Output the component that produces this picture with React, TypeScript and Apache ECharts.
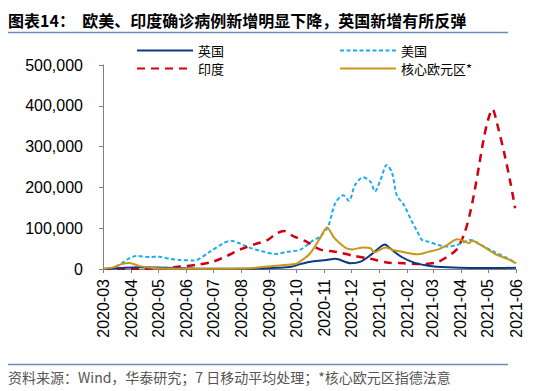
import React, { useEffect, useRef } from "react";
import * as echarts from "echarts";

const ukDates = ["2020-03-01","2020-03-20","2020-04-10","2020-05-10","2020-06-10","2020-07-15","2020-08-20","2020-09-10","2020-09-25","2020-10-05","2020-10-20","2020-11-03","2020-11-13","2020-11-30","2020-12-11","2020-12-22","2020-12-31","2021-01-07","2021-01-12","2021-01-25","2021-02-09","2021-02-24","2021-03-17","2021-04-12","2021-05-10","2021-06-01"];
const ukValues = [0,2500,4500,3000,1200,600,1000,3000,5500,12000,19000,22000,25000,14000,18000,34000,51000,60000,52000,30000,15000,8000,4000,2200,2300,3000];

const usDates = ["2020-03-01","2020-03-10","2020-03-19","2020-03-30","2020-04-07","2020-04-22","2020-05-02","2020-05-14","2020-05-25","2020-06-10","2020-06-27","2020-07-12","2020-07-21","2020-07-30","2020-08-07","2020-08-21","2020-09-09","2020-09-20","2020-10-05","2020-10-20","2020-10-27","2020-11-05","2020-11-13","2020-11-22","2020-11-28","2020-12-05","2020-12-14","2020-12-22","2020-12-27","2021-01-02","2021-01-09","2021-01-15","2021-01-20","2021-01-28","2021-02-05","2021-02-12","2021-02-17","2021-02-24","2021-03-07","2021-03-17","2021-03-28","2021-04-12","2021-04-23","2021-05-08","2021-05-23","2021-06-01"];
const usValues = [0,1000,10000,26000,32000,29500,30000,25000,22000,21000,42000,63000,69000,63000,55000,45000,37000,42000,47000,71000,79000,104000,161000,181000,167000,206000,225000,214000,190000,218000,255000,235000,181000,157000,120000,91000,71000,67000,59000,55000,59000,71000,59000,42000,26000,14000];

const inDates = ["2020-03-01","2020-04-15","2020-05-11","2020-05-25","2020-06-12","2020-07-01","2020-07-16","2020-07-31","2020-08-15","2020-08-30","2020-09-09","2020-09-17","2020-09-28","2020-10-13","2020-10-27","2020-11-14","2020-12-02","2020-12-22","2021-01-09","2021-01-28","2021-02-16","2021-03-05","2021-03-16","2021-03-27","2021-04-05","2021-04-12","2021-04-19","2021-04-26","2021-05-01","2021-05-06","2021-05-11","2021-05-19","2021-05-26","2021-05-31"];
const inValues = [0,800,2500,6000,10000,18000,32000,48000,60000,71000,87000,93000,80000,66000,48000,42000,33000,25000,16000,14000,12000,16000,29000,47000,88000,145000,226000,316000,365000,392000,357000,284000,210000,149000];

const ezDates = ["2020-03-01","2020-03-12","2020-03-22","2020-03-30","2020-04-11","2020-04-26","2020-05-20","2020-07-15","2020-08-11","2020-08-30","2020-09-17","2020-09-30","2020-10-05","2020-10-16","2020-10-27","2020-11-04","2020-11-11","2020-11-18","2020-11-25","2020-12-02","2020-12-14","2020-12-22","2020-12-26","2021-01-08","2021-01-15","2021-01-31","2021-02-12","2021-02-24","2021-03-07","2021-03-17","2021-03-28","2021-04-04","2021-04-10","2021-04-13","2021-04-23","2021-05-08","2021-05-23","2021-06-01"];
const ezValues = [0,4000,12000,14500,7000,2500,1000,800,2000,6000,10000,12000,18000,38000,75000,102000,79000,63000,51000,48000,53000,51000,41000,53000,47000,40000,36000,42000,48000,59000,73000,69000,63000,69000,59000,38000,24000,14000];

const seriesNames = ["英国", "美国", "印度", "核心欧元区*"];
const yTicks = [0, 100000, 200000, 300000, 400000, 500000];
const titleText = "图表14：  欧美、印度确诊病例新增明显下降，英国新增有所反弹";
const footerText = "资料来源：Wind，华泰研究；7 日移动平均处理；*核心欧元区指德法意";

const pairs = (d: string[], v: number[]) => d.map((x, i) => [x, v[i]]);

export default function App() {
  const ref = useRef<HTMLDivElement>(null);
  useEffect(() => {
    if (!ref.current) return;
    const chart = echarts.init(ref.current, undefined, { renderer: "svg" });
    const numFont = "Liberation Sans, Arial, sans-serif";
    const cjkFont = "'Noto Sans CJK SC', sans-serif";
    const day = 86400000;
    const fmt = (v: number) => {
      const d = new Date(v);
      return d.getFullYear() + "-" + String(d.getMonth() + 1).padStart(2, "0");
    };
    const legendBase = {
      orient: "vertical",
      top: 39,
      itemGap: 5,
      itemWidth: 56,
      itemHeight: 13,
      itemStyle: { opacity: 0 },
      textStyle: { fontFamily: cjkFont, fontSize: 13, lineHeight: 13, color: "#000" },
    };
    chart.setOption({
      animation: false,
      backgroundColor: "#ffffff",
      grid: { left: 103, right: 34, top: 65, bottom: 122, containLabel: false },
      legend: [
        { ...legendBase, data: [seriesNames[0], seriesNames[2]], left: 131 },
        { ...legendBase, data: [seriesNames[1], seriesNames[3]], left: 334 },
      ],
      xAxis: {
        type: "time",
        min: new Date(2020, 2, 1).getTime(),
        max: new Date(2021, 5, 1).getTime(),
        minInterval: 28 * day,
        maxInterval: 31 * day,
        axisLine: { lineStyle: { color: "#808080", width: 1 } },
        axisTick: { show: true, length: 4, lineStyle: { color: "#808080" } },
        axisLabel: {
          rotate: 90,
          fontSize: 16,
          fontFamily: numFont,
          color: "#000",
          margin: 10,
          formatter: fmt,
          showMinLabel: true,
          showMaxLabel: true,
          hideOverlap: false,
        },
        splitLine: { show: false },
      },
      yAxis: {
        type: "value",
        min: yTicks[0],
        max: yTicks[yTicks.length - 1],
        interval: 100000,
        axisLine: { show: true, lineStyle: { color: "#808080", width: 1 } },
        axisTick: { show: true, length: 4, lineStyle: { color: "#808080" } },
        axisLabel: {
          fontSize: 16,
          fontFamily: numFont,
          color: "#000",
          margin: 20,
          formatter: (v: number) => v.toLocaleString("en-US"),
        },
        splitLine: { show: false },
      },
      series: [
        {
          name: seriesNames[0],
          type: "line",
          data: pairs(ukDates, ukValues),
          symbol: "none",
          smooth: 0.3,
          z: 4,
          lineStyle: { color: "#0b3a85", width: 2 },
          itemStyle: { color: "#0b3a85" },
        },
        {
          name: seriesNames[1],
          type: "line",
          data: pairs(usDates, usValues),
          symbol: "none",
          smooth: 0.3,
          z: 2,
          lineStyle: { color: "#1aaef0", width: 2, type: [4, 2.5] },
          itemStyle: { color: "#1aaef0" },
        },
        {
          name: seriesNames[2],
          type: "line",
          data: pairs(inDates, inValues),
          symbol: "none",
          smooth: 0.3,
          z: 3,
          lineStyle: { color: "#d0000e", width: 2.5, type: [8, 6] },
          itemStyle: { color: "#d0000e" },
        },
        {
          name: seriesNames[3],
          type: "line",
          data: pairs(ezDates, ezValues),
          symbol: "none",
          smooth: 0.3,
          z: 5,
          lineStyle: { color: "#c8961a", width: 2 },
          itemStyle: { color: "#c8961a" },
        },
      ],
      graphic: [
        {
          type: "text",
          left: 8,
          top: 12,
          style: { text: titleText, font: "bold 16px 'Noto Sans CJK SC', sans-serif", fill: "#000" },
        },
        {
          type: "line",
          shape: { x1: 8, y1: 32.5, x2: 508, y2: 32.5 },
          style: { stroke: "#6a8bb8", lineWidth: 1.5 },
        },
        {
          type: "line",
          shape: { x1: 8, y1: 364.5, x2: 508, y2: 364.5 },
          style: { stroke: "#6a8bb8", lineWidth: 1.5 },
        },
        {
          type: "text",
          left: 8,
          top: 370,
          style: { text: footerText, font: "14px 'Noto Sans CJK SC', sans-serif", fill: "#555" },
        },
      ],
    });
    return () => chart.dispose();
  }, []);
  return (
    <div
      ref={ref}
      style={{ position: "absolute", left: 0, top: 0, width: 550, height: 391, background: "#fff" }}
    />
  );
}
